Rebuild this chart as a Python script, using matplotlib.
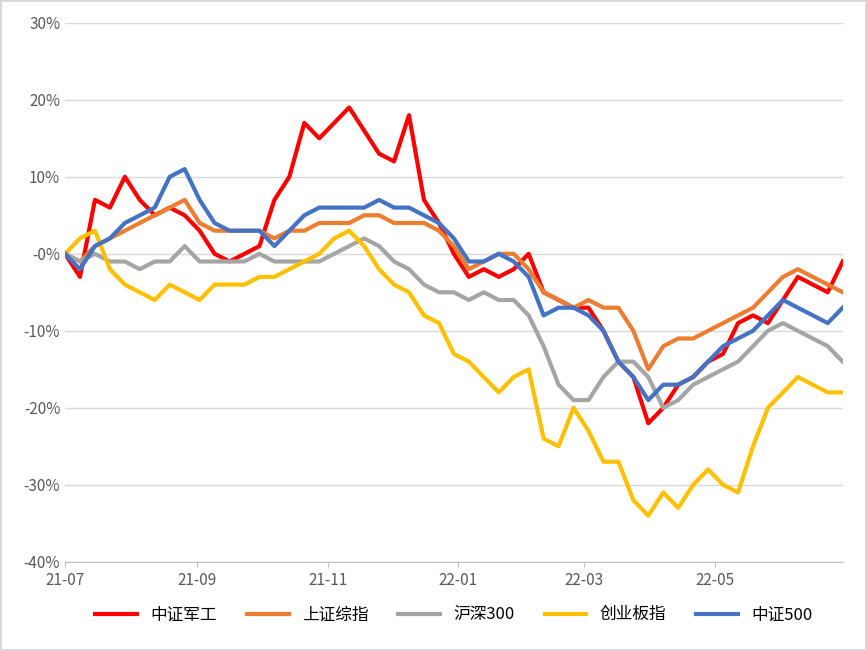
import numpy as np
import pandas as pd
import matplotlib
matplotlib.use("Agg")
import matplotlib.pyplot as plt
import matplotlib.dates as mdates
from matplotlib import font_manager
from matplotlib.ticker import FuncFormatter

cjk = [f.name for f in font_manager.fontManager.ttflist if "CJK" in f.name]
cjk = sorted(set(cjk), key=lambda n: ("SC" not in n, n))
plt.rcParams["font.family"] = "sans-serif"
plt.rcParams["font.sans-serif"] = cjk + ["DejaVu Sans"]

names = ["中证军工", "上证综指", "沪深300", "创业板指", "中证500"]
colors = ["#FF0000", "#ED7D31", "#A5A5A5", "#FFC000", "#4472C4"]

jungong = [0, -3, 7, 6, 10, 7, 5, 6, 5, 3, 0, -1, 0, 1, 7, 10, 17, 15, 17, 19,
           16, 13, 12, 18, 7, 4, 0, -3, -2, -3, -2, 0, -5, -6, -7, -7, -10,
           -14, -16, -22, -20, -17, -16, -14, -13, -9, -8, -9, -6, -3, -4, -5, -1]
shangzheng = [0, -1, 1, 2, 3, 4, 5, 6, 7, 4, 3, 3, 3, 3, 2, 3, 3, 4, 4, 4, 5, 5,
              4, 4, 4, 3, 1, -2, -1, 0, 0, -2, -5, -6, -7, -6, -7, -7, -10, -15,
              -12, -11, -11, -10, -9, -8, -7, -5, -3, -2, -3, -4, -5]
hs300 = [0, -1, 0, -1, -1, -2, -1, -1, 1, -1, -1, -1, -1, 0, -1, -1, -1, -1, 0,
         1, 2, 1, -1, -2, -4, -5, -5, -6, -5, -6, -6, -8, -12, -17, -19, -19,
         -16, -14, -14, -16, -20, -19, -17, -16, -15, -14, -12, -10, -9, -10,
         -11, -12, -14]
chuangye = [0, 2, 3, -2, -4, -5, -6, -4, -5, -6, -4, -4, -4, -3, -3, -2, -1, 0,
            2, 3, 1, -2, -4, -5, -8, -9, -13, -14, -16, -18, -16, -15, -24, -25,
            -20, -23, -27, -27, -32, -34, -31, -33, -30, -28, -30, -31, -25, -20,
            -18, -16, -17, -18, -18]
zz500 = [0, -2, 1, 2, 4, 5, 6, 10, 11, 7, 4, 3, 3, 3, 1, 3, 5, 6, 6, 6, 6, 7, 6,
         6, 5, 4, 2, -1, -1, 0, -1, -3, -8, -7, -7, -8, -10, -14, -16, -19, -17,
         -17, -16, -14, -12, -11, -10, -8, -6, -7, -8, -9, -7]
series = [jungong, shangzheng, hs300, chuangye, zz500]

fig = plt.figure(figsize=(8.67, 6.51), dpi=100)
fig.patch.set_edgecolor("#D9D9D9")
fig.patch.set_linewidth(1.5)
ax = fig.add_axes([0.075, 0.137, 0.897, 0.828])

start, end = pd.Timestamp("2021-07-01"), pd.Timestamp("2022-06-30")
for name, c, vals in zip(names, colors, series):
    d = pd.date_range(start, end, periods=len(vals))
    ax.plot(d, np.array(vals) / 100.0, color=c, lw=3.0, label=name)

ax.set_xlim(start, end)
ax.set_ylim(-0.4, 0.3)
ax.set_yticks(np.arange(-0.4, 0.31, 0.1))
ax.yaxis.set_major_formatter(FuncFormatter(lambda v, p: f"{v * 100:.0f}%"))
ax.xaxis.set_major_locator(mdates.MonthLocator(bymonth=[1, 3, 5, 7, 9, 11]))
ax.xaxis.set_major_formatter(mdates.DateFormatter("%y-%m"))
ax.grid(axis="y", color="#D9D9D9", lw=1)
ax.set_axisbelow(True)
for s in ["top", "right", "left"]:
    ax.spines[s].set_visible(False)
ax.spines["bottom"].set_color("#BFBFBF")
ax.tick_params(axis="y", length=0, labelsize=11, colors="#595959")
ax.tick_params(axis="x", labelsize=11, colors="#595959", color="#BFBFBF")
ax.legend(loc="upper center", bbox_to_anchor=(0.5, -0.055), ncol=5,
          frameon=False, fontsize=12, handlelength=2.5, columnspacing=1.8)

fig.savefig("out.png", dpi=100)
